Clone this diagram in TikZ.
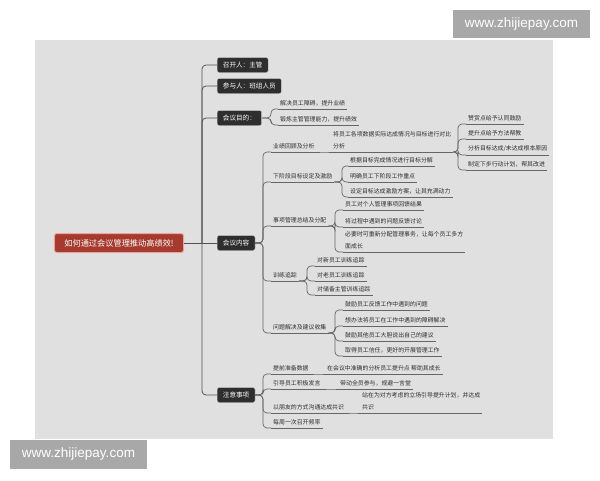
\documentclass[tikz,border=0pt]{standalone}
\usepackage{fontspec}
\setmainfont{Noto Sans CJK SC}
\newfontfamily\wmfont{Liberation Sans}
\definecolor{panel}{HTML}{E0E0E0}
\definecolor{dk}{HTML}{2E2E2E}
\definecolor{rootred}{HTML}{A63A2E}
\definecolor{rootedge}{HTML}{E9A59C}
\definecolor{ln}{HTML}{666666}
\definecolor{tx}{HTML}{2E2E2E}
\definecolor{wmgray}{HTML}{A8A8A8}
\begin{document}
\begin{tikzpicture}[x=1pt,y=-1pt,
  lvl1/.style={fill=dk, text=white, rounded corners=2pt, draw=white!80!black, line width=0.4pt,
    font=\fontsize{6.6}{7.8}\selectfont, inner xsep=5.7pt, inner ysep=0pt, minimum height=15pt, anchor=west},
  rootbox/.style={fill=rootred, text=white, rounded corners=2.5pt, draw=rootedge, line width=1pt,
    font=\fontsize{8.2}{9.5}\selectfont, inner xsep=10pt, inner ysep=0pt, minimum height=19pt},
  topic/.style={anchor=south west, inner xsep=2pt, inner ysep=3pt, text=tx, align=left,
    font=\fontsize{5.9}{11.5}\selectfont},
  conn/.style={draw=ln, line width=0.7pt, rounded corners=4pt},
  trunk/.style={draw=ln!80!black, line width=0.8pt, rounded corners=4pt},
  uline/.style={draw=ln, line width=0.7pt},
  wm/.style={fill=wmgray, text=white, font=\wmfont\fontsize{13.5}{15}\selectfont, inner sep=0pt}
]
\useasboundingbox (0,0) rectangle (600,480);
\fill[white] (0,0) rectangle (600,480);
\fill[panel] (35,40) rectangle (553,439);

% watermarks
\node[wm, minimum width=137pt, minimum height=28pt] (wmtop) at (521.5,24) {www.zhijiepay.com};
\node[wm, minimum width=137pt, minimum height=29pt] (wmbot) at (78.5,454.5) {www.zhijiepay.com};

% root and level 1
\node[rootbox] (root) at (119,243) {如何通过会议管理推动高绩效!};
\node[lvl1] (n1) at (217,65) {召开人：主管};
\node[lvl1] (n2) at (217,86) {参与人：班组人员};
\node[lvl1] (n3) at (217,118) {会议目的：};
\node[lvl1] (n4) at (217,243) {会议内容};
\node[lvl1] (n5) at (217,395) {注意事项};

% bracket points
\coordinate (tr) at (202,243);
\coordinate (b3) at (271,118);
\coordinate (b4) at (263,243);
\coordinate (b5) at (263,395);
\coordinate (bc1) at (327,152);
\coordinate (bd1) at (458,152);
\coordinate (bc2) at (342,182);
\coordinate (bc3) at (335,226);
\coordinate (bc4) at (307,281);
\coordinate (bc5) at (335,333);
\coordinate (bj1) at (321,374);
\coordinate (bj2) at (334,389);
\coordinate (bj3) at (356,413);

% 会议目的
\node[topic] (a1) at (278,109) {解决员工障碍，提升业绩};
\node[topic] (a2) at (278,125) {锻炼主管管理能力，提升绩效};

% 会议内容
\node[topic] (c1) at (271,152) {业绩回顾及分析};
\node[topic] (c2) at (271,182) {下阶段目标设定及激励};
\node[topic] (c3) at (271,226) {事项管理总结及分配};
\node[topic] (c4) at (271,281) {训练追踪};
\node[topic] (c5) at (271,333) {问题解决及建议收集};

\node[topic] (d1) at (331,152) {将员工各项数据实际达成情况与目标进行对比\\分析};
\node[topic] (e1) at (466,124) {赞赏点给予认同鼓励};
\node[topic] (e2) at (466,139) {提升点给予方法帮教};
\node[topic] (e3) at (466,155) {分析目标达成/未达成根本原因};
\node[topic] (e4) at (466,170) {制定下步行动计划，帮其改进};

\node[topic] (f1) at (348,166) {根据目标完成情况进行目标分解};
\node[topic] (f2) at (348,182) {明确员工下阶段工作重点};
\node[topic] (f3) at (348,197) {设定目标达成激励方案，让其充满动力};

\node[topic] (g1) at (343,210) {员工对个人管理事项回馈结果};
\node[topic] (g2) at (343,227) {将过程中遇到的问题反馈讨论};
\node[topic] (g3) at (343,252) {必要时可重新分配管理事务，让每个员工多方\\面成长};

\node[topic] (h1) at (315,266) {对新员工训练追踪};
\node[topic] (h2) at (315,281) {对老员工训练追踪};
\node[topic] (h3) at (315,295) {对储备主管训练追踪};

\node[topic] (i1) at (343,310) {鼓励员工反馈工作中遇到的问题};
\node[topic] (i2) at (343,326) {想办法将员工在工作中遇到的障碍解决};
\node[topic] (i3) at (343,341) {鼓励其他员工大胆说出自己的建议};
\node[topic] (i4) at (343,356) {取得员工信任，更好的开展管理工作};

% 注意事项
\node[topic] (j1) at (271,374) {提前准备数据};
\node[topic] (j2) at (271,389) {引导员工积极发言};
\node[topic] (j3) at (271,413) {以朋友的方式沟通达成共识};
\node[topic] (j4) at (271,428) {每周一次召开频率};
\node[topic] (k1) at (325,374) {在会议中准确的分析员工提升点 帮助其成长};
\node[topic] (k2) at (338,389) {带动全员参与，规避一言堂};
\node[topic] (k3) at (360,413) {站在为对方考虑的立场引导提升计划，并达成\\共识};

% underlines
\foreach \t in {a1,a2,c1,c2,c3,c4,c5,d1,e1,e2,e3,e4,f1,f2,f3,g1,g2,g3,h1,h2,h3,i1,i2,i3,i4,j1,j2,j3,j4,k1,k2,k3}
  \draw[uline] (\t.south west) -- (\t.south east);

% trunk
\draw[trunk] (root.east) -- (n4.west);
\foreach \n in {n1,n2,n3,n5}
  \draw[trunk] (tr) |- (\n.west);

% connectors
\foreach \c in {a1,a2} \draw[conn] (n3.east) -- (b3) |- (\c.south west);
\foreach \c in {c1,c2,c3,c4,c5} \draw[conn] (n4.east) -- (b4) |- (\c.south west);
\foreach \c in {j1,j2,j3,j4} \draw[conn] (n5.east) -- (b5) |- (\c.south west);
\draw[conn] (c1.south east) -- (bc1) -- (d1.south west);
\foreach \c in {e1,e2,e3,e4} \draw[conn] (d1.south east) -- (bd1) |- (\c.south west);
\foreach \c in {f1,f2,f3} \draw[conn] (c2.south east) -- (bc2) |- (\c.south west);
\foreach \c in {g1,g2,g3} \draw[conn] (c3.south east) -- (bc3) |- (\c.south west);
\foreach \c in {h1,h2,h3} \draw[conn] (c4.south east) -- (bc4) |- (\c.south west);
\foreach \c in {i1,i2,i3,i4} \draw[conn] (c5.south east) -- (bc5) |- (\c.south west);
\draw[conn] (j1.south east) -- (bj1) -- (k1.south west);
\draw[conn] (j2.south east) -- (bj2) -- (k2.south west);
\draw[conn] (j3.south east) -- (bj3) -- (k3.south west);
\end{tikzpicture}
\end{document}
